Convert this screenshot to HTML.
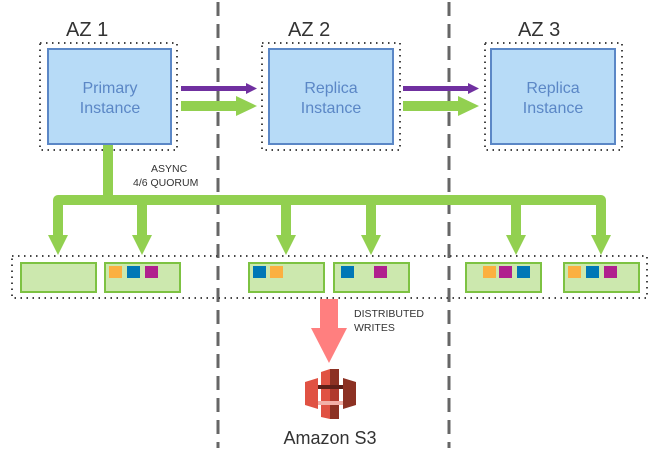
<!DOCTYPE html>
<html><head><style>body{margin:0;background:#fff}svg{display:block}</style></head><body>
<svg width="668" height="468" viewBox="0 0 668 468" xmlns="http://www.w3.org/2000/svg" font-family="Liberation Sans, sans-serif">
<g stroke="#666" stroke-width="3" stroke-dasharray="14,8">
<line x1="218" y1="2" x2="218" y2="448"/><line x1="449" y1="2" x2="449" y2="448"/></g>
<g fill="#333" font-size="20"><text x="66" y="36">AZ 1</text><text x="288" y="36">AZ 2</text><text x="518" y="36">AZ 3</text></g>
<g fill="none" stroke="#444" stroke-width="2" stroke-dasharray="1.5,4.5">
<rect x="40" y="43" width="137" height="107"/><rect x="262" y="43" width="138" height="107"/><rect x="485" y="43" width="137" height="107"/>
<rect x="12" y="256" width="635" height="42"/></g>
<g fill="#b7dbf7" stroke="#5b87c6" stroke-width="2">
<rect x="48" y="49" width="123" height="95"/><rect x="269" y="49" width="124" height="95"/><rect x="491" y="49" width="124" height="95"/></g>
<g fill="#5b87c6" font-size="16" text-anchor="middle">
<text x="110" y="93">Primary</text><text x="110" y="113">Instance</text>
<text x="331" y="93">Replica</text><text x="331" y="113">Instance</text>
<text x="553" y="93">Replica</text><text x="553" y="113">Instance</text></g>
<g fill="#7030a0"><rect x="181" y="86" width="66" height="5"/><polygon points="246,83 257,88.5 246,94"/>
<rect x="403" y="86" width="66" height="5"/><polygon points="468,83 479,88.5 468,94"/></g>
<g fill="#92d050"><rect x="181" y="101" width="56" height="10"/><polygon points="236,96 257,106 236,116"/>
<rect x="403" y="101" width="56" height="10"/><polygon points="458,96 479,106 458,116"/></g>
<g fill="none" stroke="#92d050" stroke-width="10" stroke-linejoin="round">
<path d="M108 145 V200"/><path d="M58 236 V200 H601 V236"/>
<path d="M142 200V236M286 200V236M371 200V236M516 200V236"/></g>
<g fill="#92d050">
<polygon points="48,235 68,235 58,255"/><polygon points="132,235 152,235 142,255"/><polygon points="276,235 296,235 286,255"/>
<polygon points="361,235 381,235 371,255"/><polygon points="506,235 526,235 516,255"/><polygon points="591,235 611,235 601,255"/></g>
<g fill="#333" font-size="10.5"><text x="151" y="172">ASYNC</text><text x="133" y="186">4/6 QUORUM</text>
<text x="354" y="317">DISTRIBUTED</text><text x="354" y="331">WRITES</text></g>
<g fill="#cce8ae" stroke="#7dc242" stroke-width="2">
<rect x="21" y="263" width="75" height="29"/><rect x="105" y="263" width="75" height="29"/><rect x="249" y="263" width="75" height="29"/>
<rect x="334" y="263" width="75" height="29"/><rect x="466" y="263" width="75" height="29"/><rect x="564" y="263" width="75" height="29"/></g>
<g>
<rect x="109" y="266" width="13" height="12" fill="#fbb040"/><rect x="127" y="266" width="13" height="12" fill="#0077b6"/><rect x="145" y="266" width="13" height="12" fill="#b0208e"/>
<rect x="253" y="266" width="13" height="12" fill="#0077b6"/><rect x="270" y="266" width="13" height="12" fill="#fbb040"/>
<rect x="341" y="266" width="13" height="12" fill="#0077b6"/><rect x="374" y="266" width="13" height="12" fill="#b0208e"/>
<rect x="483" y="266" width="13" height="12" fill="#fbb040"/><rect x="499" y="266" width="13" height="12" fill="#b0208e"/><rect x="517" y="266" width="13" height="12" fill="#0077b6"/>
<rect x="568" y="266" width="13" height="12" fill="#fbb040"/><rect x="586" y="266" width="13" height="12" fill="#0077b6"/><rect x="604" y="266" width="13" height="12" fill="#b0208e"/></g>
<rect x="320" y="299" width="18" height="30" fill="#ff7f7f"/><polygon points="311,328 347,328 329,363" fill="#ff7f7f"/>
<g>
<polygon points="305,382 318,378 318,409 305,405" fill="#e05243"/><polygon points="343,378 356,382 356,405 343,409" fill="#8c3123"/>
<polygon points="321,372 330,369 339,372 339,385 321,385" fill="#e05243"/><rect x="330" y="369" width="9" height="16" fill="#8c3123"/>
<rect x="321" y="389" width="18" height="12" fill="#e05243"/><rect x="330" y="389" width="9" height="12" fill="#b03a2e"/>
<polygon points="321,405 339,405 339,417 330,419 321,417" fill="#e05243"/><rect x="330" y="405" width="9" height="14" fill="#8c3123"/>
<rect x="318" y="385" width="25" height="4" fill="#5e1f18"/><rect x="318" y="401" width="25" height="4" fill="#f2b0a8"/></g>
<text x="330" y="444" font-size="18" fill="#333" text-anchor="middle">Amazon S3</text>
</svg>
</body></html>
